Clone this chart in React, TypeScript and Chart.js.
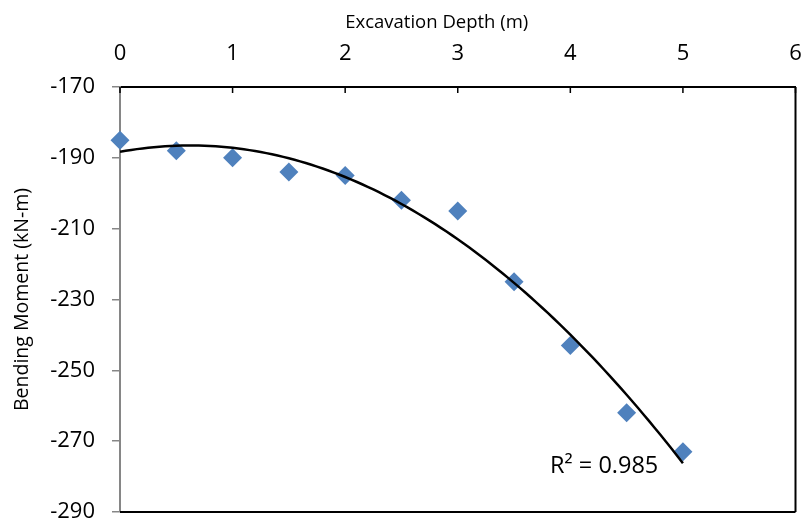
import React, { useEffect, useRef } from "react";
import { Chart, registerables } from "chart.js";

Chart.register(...registerables);

// Data
const depths: number[] = [0, 0.5, 1, 1.5, 2, 2.5, 3, 3.5, 4, 4.5, 5];
const moments: number[] = [-185, -188, -190, -194, -195, -202, -205, -225, -243, -262, -273];
const xTicks: number[] = [0, 1, 2, 3, 4, 5, 6];
const yTicks: number[] = [-170, -190, -210, -230, -250, -270, -290];
const xTitle = "Excavation Depth (m)";
const yTitle = "Bending Moment (kN-m)";
const r2Label = "R² = 0.985";

// Quadratic least-squares trendline (Excel polynomial order 2)
function fitQuadratic(xs: number[], ys: number[]): [number, number, number] {
  let s0 = 0, s1 = 0, s2 = 0, s3 = 0, s4 = 0, t0 = 0, t1 = 0, t2 = 0;
  for (let i = 0; i < xs.length; i++) {
    const x = xs[i], y = ys[i];
    s0 += 1; s1 += x; s2 += x * x; s3 += x * x * x; s4 += x * x * x * x;
    t0 += y; t1 += x * y; t2 += x * x * y;
  }
  const M = [
    [s0, s1, s2, t0],
    [s1, s2, s3, t1],
    [s2, s3, s4, t2],
  ];
  for (let c = 0; c < 3; c++) {
    let p = c;
    for (let r = c + 1; r < 3; r++) if (Math.abs(M[r][c]) > Math.abs(M[p][c])) p = r;
    [M[c], M[p]] = [M[p], M[c]];
    for (let r = 0; r < 3; r++) {
      if (r === c) continue;
      const f = M[r][c] / M[c][c];
      for (let k = c; k < 4; k++) M[r][k] -= f * M[c][k];
    }
  }
  return [M[0][3] / M[0][0], M[1][3] / M[1][1], M[2][3] / M[2][2]];
}

export default function App() {
  const ref = useRef<HTMLCanvasElement | null>(null);

  useEffect(() => {
    if (!ref.current) return;
    const [a, b, c] = fitQuadratic(depths, moments);
    const xMin = depths[0];
    const xMax = depths[depths.length - 1];
    const steps = 100;
    const trend: { x: number; y: number }[] = [];
    for (let i = 0; i <= steps; i++) {
      const x = xMin + ((xMax - xMin) * i) / steps;
      trend.push({ x, y: a + b * x + c * x * x });
    }

    const frame = {
      id: "frame",
      afterDatasetsDraw(chart: any) {
        const { ctx, chartArea, scales } = chart;
        const { left, right, top, bottom } = chartArea;
        ctx.save();
        ctx.strokeStyle = "#000";
        ctx.lineWidth = 2;
        ctx.beginPath();
        ctx.moveTo(right, top);
        ctx.lineTo(right, bottom);
        ctx.moveTo(left, bottom);
        ctx.lineTo(right, bottom);
        ctx.stroke();
        // inward tick marks on the top axis
        ctx.lineWidth = 1.5;
        ctx.beginPath();
        for (const t of xTicks) {
          const px = scales.x.getPixelForValue(t);
          ctx.moveTo(px, top);
          ctx.lineTo(px, top + 6);
        }
        ctx.stroke();
        ctx.fillStyle = "#000";
        // x axis title (sits a little left of the plot centre, as in the reference)
        ctx.font = "18.5px 'Open Sans'";
        ctx.textAlign = "center";
        ctx.textBaseline = "alphabetic";
        ctx.fillText(xTitle, (left + right) / 2 - 21, 28);
        // R² label
        ctx.font = "23.5px 'Open Sans'";
        ctx.textAlign = "left";
        ctx.fillText(r2Label, scales.x.getPixelForValue(3.82), scales.y.getPixelForValue(-279));
        ctx.restore();
      },
    };

    const chart = new Chart(ref.current, {
      type: "scatter",
      data: {
        datasets: [
          {
            type: "line",
            label: "Trend",
            data: trend,
            borderColor: "#000",
            borderWidth: 2.5,
            pointRadius: 0,
            tension: 0,
            fill: false,
          } as any,
          {
            label: "Bending Moment",
            data: depths.map((x, i) => ({ x, y: moments[i] })),
            pointStyle: "rectRot",
            pointRadius: 9.5,
            pointBorderWidth: 0,
            backgroundColor: "#4F81BD",
            borderColor: "#4F81BD",
            clip: false,
          } as any,
        ],
      },
      options: {
        animation: false,
        responsive: true,
        maintainAspectRatio: false,
        layout: { padding: { left: 0, top: 0, right: 1, bottom: 11 } },
        plugins: { legend: { display: false }, tooltip: { enabled: false } },
        scales: {
          x: {
            type: "linear",
            position: "top",
            min: 0,
            max: 6,
            afterBuildTicks(scale: any) {
              scale.ticks = xTicks.map((v) => ({ value: v }));
            },
            afterFit(scale: any) {
              scale.height = 87;
              scale.paddingLeft = 0;
              scale.paddingRight = 0;
            },
            grid: { display: false, drawTicks: false },
            border: { display: true, color: "#000", width: 2 },
            ticks: {
              padding: 20,
              color: "#000",
              font: { family: "'Open Sans'", size: 22 },
              maxRotation: 0,
            },
            title: { display: false },
          },
          y: {
            type: "linear",
            position: "left",
            min: -290,
            max: -170,
            afterBuildTicks(scale: any) {
              scale.ticks = yTicks.map((v) => ({ value: v }));
            },
            afterFit(scale: any) {
              scale.width = 120;
              scale.paddingTop = 0;
              scale.paddingBottom = 0;
            },
            grid: {
              drawOnChartArea: false,
              drawTicks: true,
              tickLength: 8,
              color: "#868686",
              lineWidth: 1.5,
            },
            border: { display: true, color: "#868686", width: 2 },
            ticks: {
              padding: 17,
              color: "#000",
              font: { family: "'Open Sans'", size: 22 },
            },
            title: {
              display: true,
              text: yTitle,
              color: "#000",
              font: { family: "'Open Sans'", size: 19.5 },
              padding: { top: 10.5, bottom: 0 },
            },
          },
        },
      },
      plugins: [frame],
    });
    return () => chart.destroy();
  }, []);

  return (
    <div style={{ position: "absolute", left: 0, top: 0, width: 801, height: 523, overflow: "hidden", background: "#fff" }}>
      <div style={{ position: "relative", width: 805, height: 523 }}>
        <canvas ref={ref} />
      </div>
    </div>
  );
}
